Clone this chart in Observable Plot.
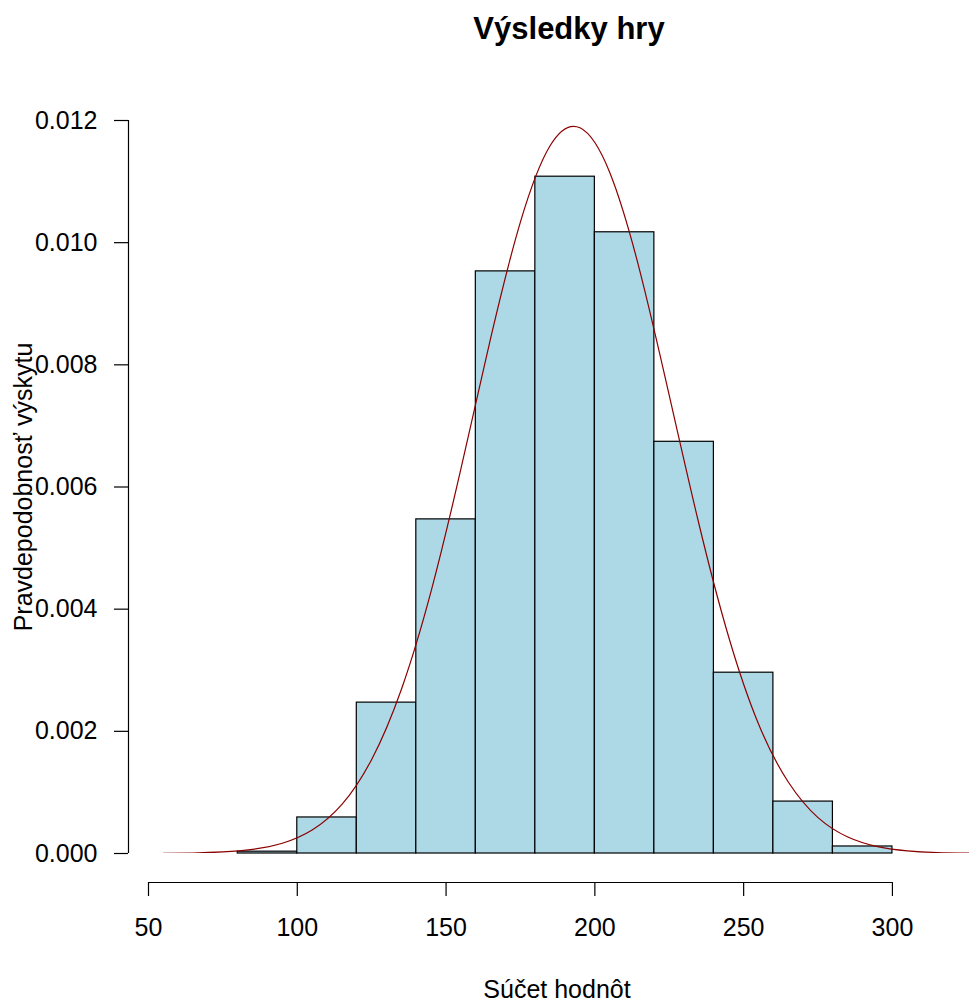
<!DOCTYPE html>
<html>
<head>
<meta charset="utf-8">
<script src="https://cdn.jsdelivr.net/npm/d3@7"></script>
<script src="https://cdn.jsdelivr.net/npm/@observablehq/plot@0.6"></script>
<style>
  html, body { margin: 0; padding: 0; background: #fff; }
  svg { display: block; }
</style>
</head>
<body>
<div id="chart"></div>
<script>
// Histogram breaks and densities
const breaks = [80, 100, 120, 140, 160, 180, 200, 220, 240, 260, 280, 300];
const densities = [0.00003, 0.00059, 0.00247, 0.00547, 0.00953, 0.01108, 0.01017, 0.00674, 0.00296, 0.00085, 0.000115];

// Dark red density curve
const curveX = [55, 65, 75, 85, 95, 105, 115, 125, 135, 145, 155, 165, 175, 185, 195, 205, 215, 225, 235, 245, 255, 265, 275, 285, 295, 305, 315, 326];
const curveY = [0.0000025, 0.000008, 0.000025, 0.000067, 0.000168, 0.000384, 0.000803, 0.00154, 0.00269, 0.0043, 0.0063, 0.00844, 0.01034, 0.01159, 0.01188, 0.01115, 0.00956, 0.0075, 0.00539, 0.00354, 0.00212, 0.00117, 0.000587, 0.00027, 0.000113, 0.000044, 0.0000154, 0.0000045];

const xTicks = [50, 100, 150, 200, 250, 300];
const yTicks = [0, 0.002, 0.004, 0.006, 0.008, 0.010, 0.012];

const title = "Výsledky hry";
const xLabel = "Súčet hodnôt";
const yLabel = "Pravdepodobnosť výskytu";

const bins = densities.map((d, i) => ({x1: breaks[i], x2: breaks[i + 1], y: d}));
const curve = curveX.map((x, i) => ({x, y: curveY[i]}));

const font = "'Liberation Sans', Arial, sans-serif";

const chart = Plot.plot({
  width: 969,
  height: 1004,
  marginTop: 120,
  marginBottom: 151,
  marginLeft: 148,
  marginRight: 0,
  style: {fontFamily: font, fontSize: "25px", color: "#000", background: "#fff"},
  x: {domain: [50, 325.9], axis: null, label: null},
  y: {domain: [0, 0.012], axis: null, label: null},
  marks: [
    Plot.rectY(bins, {x1: "x1", x2: "x2", y1: 0, y2: "y", fill: "#ADD8E6", stroke: "#000", strokeWidth: 1.2, inset: 0}),
    Plot.line(curve, {x: "x", y: "y", stroke: "#8B0000", strokeWidth: 1.2, curve: "natural", clip: true}),
    // x axis (R style, offset below the plot)
    Plot.ruleY([0], {x1: xTicks[0], x2: xTicks[xTicks.length - 1], dy: 29, stroke: "#000", strokeWidth: 1.2}),
    Plot.axisX({ticks: xTicks, label: null, tickSize: 14, tickPadding: 22, dy: 29, stroke: "#000", strokeWidth: 1.2, fontSize: 25, tickFormat: d3.format("d"), fill: "#000"}),
    // y axis
    Plot.ruleX([50], {y1: yTicks[0], y2: yTicks[yTicks.length - 1], dx: -20, stroke: "#000", strokeWidth: 1.2}),
    Plot.axisY({ticks: yTicks, label: null, tickSize: 14, tickPadding: 17, dx: -20, stroke: "#000", strokeWidth: 1.2, fontSize: 25, tickFormat: d3.format(".3f"), fill: "#000"}),
    // labels
    Plot.text([title], {frameAnchor: "top", dx: 10, dy: -91, fontSize: 31, fontWeight: "bold", lineAnchor: "middle", textAnchor: "middle", fill: "#000"}),
    Plot.text([xLabel], {frameAnchor: "bottom", dx: -2, dy: 136, fontSize: 25, lineAnchor: "middle", textAnchor: "middle", fill: "#000"}),
    Plot.text([yLabel], {frameAnchor: "left", dx: -125, rotate: -90, fontSize: 25, lineAnchor: "middle", textAnchor: "middle", fill: "#000"})
  ]
});
document.getElementById("chart").appendChild(chart);
</script>
</body>
</html>
